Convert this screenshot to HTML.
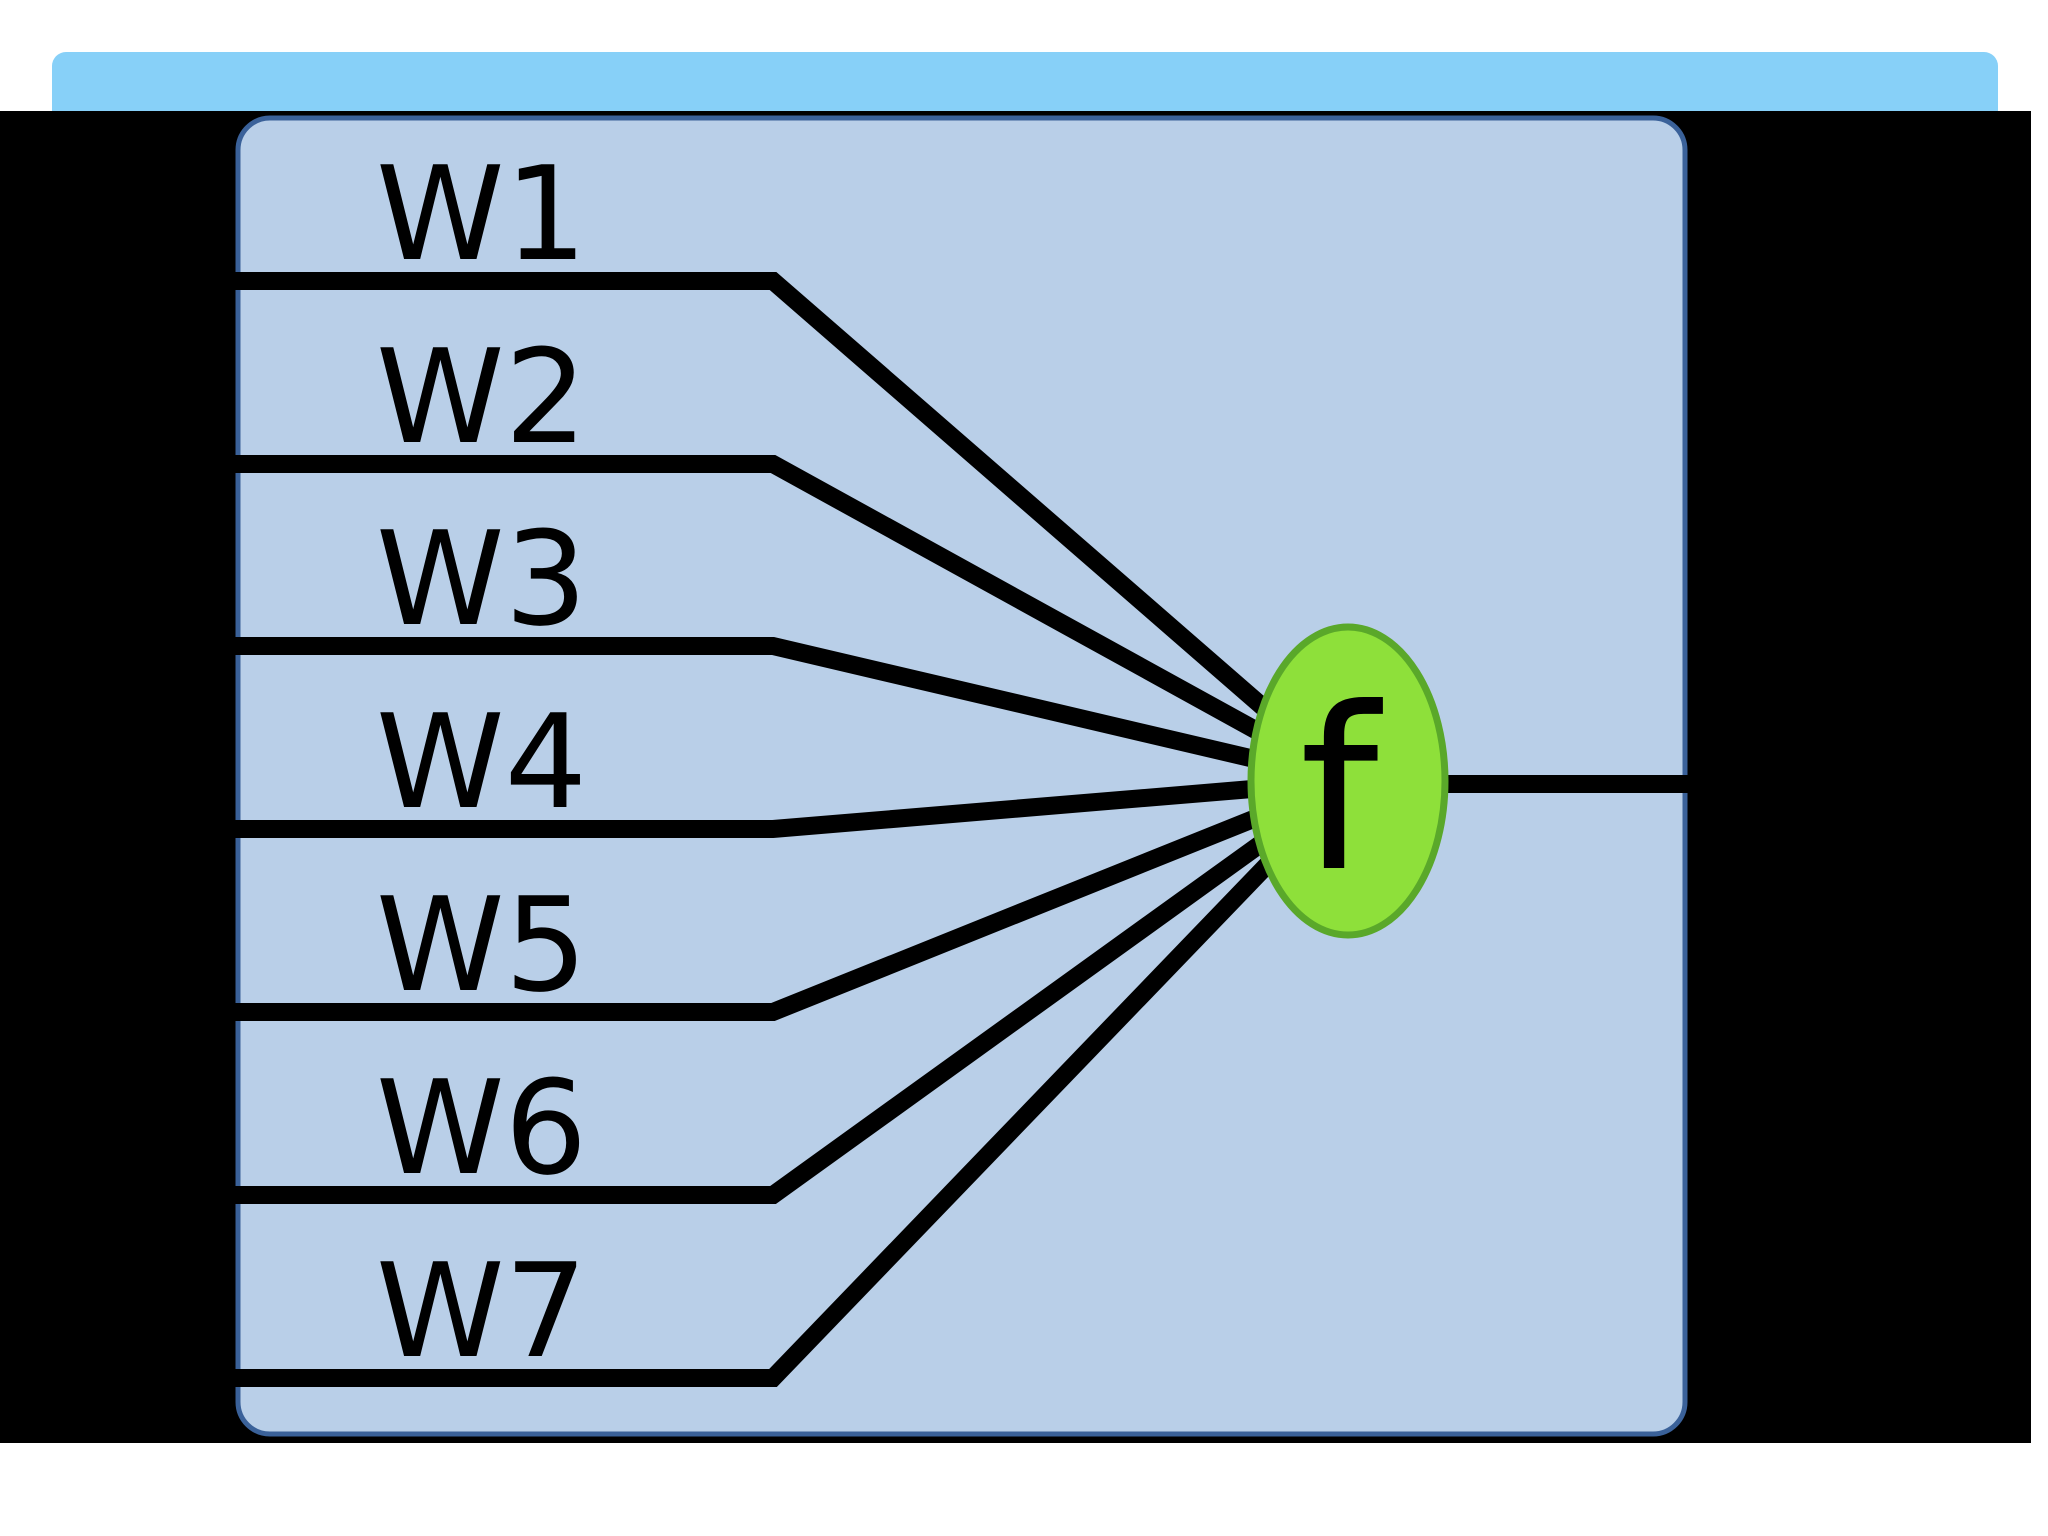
<!DOCTYPE html>
<html><head><meta charset="utf-8"><style>
html,body{margin:0;padding:0;background:#fff;width:2048px;height:1536px;overflow:hidden}
</style></head><body>
<svg width="2048" height="1536" viewBox="0 0 2048 1536" xmlns="http://www.w3.org/2000/svg">
<rect x="0" y="0" width="2048" height="1536" fill="#ffffff"/>
<rect x="52" y="52" width="1946" height="90" rx="14" fill="#87d0f8"/>
<rect x="0" y="111" width="2031" height="1332" fill="#000"/>
<rect x="238" y="118" width="1447" height="1316" rx="32" fill="#b9cfe8" stroke="#3a6199" stroke-width="5"/>
<g stroke="#000" stroke-width="18" fill="none" stroke-linejoin="miter">
<polyline points="234,281 773,281 1348,781"/>
<polyline points="234,464 773,464 1348,781"/>
<polyline points="234,646 773,646 1348,781"/>
<polyline points="234,829 773,829 1348,781"/>
<polyline points="234,1012 773,1012 1348,781"/>
<polyline points="234,1195 773,1195 1348,781"/>
<polyline points="234,1378 773,1378 1348,781"/>
<line x1="1440" y1="784" x2="1691" y2="784"/>
</g>
<ellipse cx="1348" cy="781" rx="97" ry="154" fill="#8ee03a" stroke="#5aa82a" stroke-width="7"/>
<text x="1339" y="868" font-family="DejaVu Sans, sans-serif" font-size="225" text-anchor="middle" fill="#000">f</text>
<g font-family="DejaVu Sans, sans-serif" font-size="130" fill="#000">
<text x="376" y="259">W1</text>
<text x="376" y="442">W2</text>
<text x="376" y="624">W3</text>
<text x="376" y="807">W4</text>
<text x="376" y="990">W5</text>
<text x="376" y="1173">W6</text>
<text x="376" y="1356">W7</text>
</g>
</svg>
</body></html>
